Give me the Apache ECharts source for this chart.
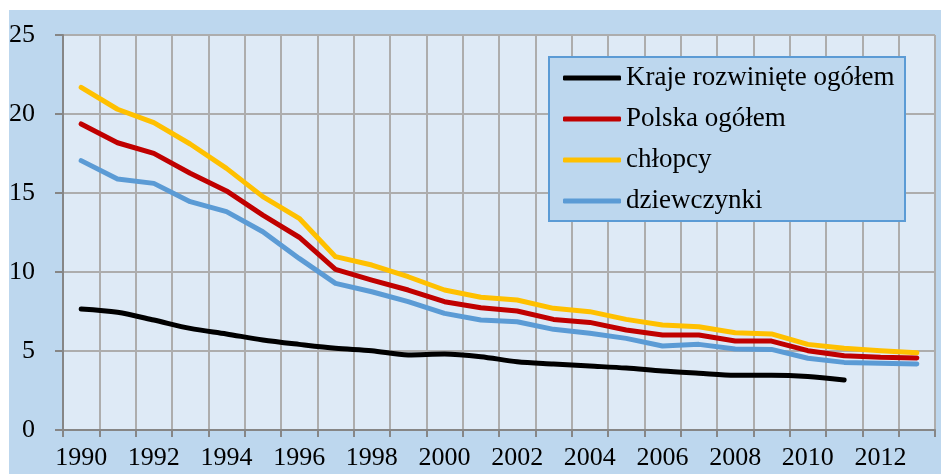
<!DOCTYPE html>
<html>
<head>
<meta charset="utf-8">
<script src="https://cdn.jsdelivr.net/npm/echarts@6/dist/echarts.min.js"></script>
<style>
  html, body { margin: 0; padding: 0; background: #fff; }
  #main { width: 941px; height: 474px; }
</style>
</head>
<body>
<div id="main"></div>
<script>
// lata
const years = ['1990', '1991', '1992', '1993', '1994', '1995', '1996', '1997', '1998', '1999', '2000', '2001',
  '2002', '2003', '2004', '2005', '2006', '2007', '2008', '2009', '2010', '2011', '2012', '2013'];

// Kraje rozwinięte ogółem (do 2011)
const krajeRozwiniete = [7.66, 7.45, 6.96, 6.43, 6.08, 5.7, 5.42, 5.17, 5.02, 4.75, 4.81, 4.64,
  4.32, 4.18, 4.05, 3.92, 3.73, 3.59, 3.46, 3.46, 3.38, 3.16];
// Polska ogółem
const polska = [19.37, 18.18, 17.51, 16.25, 15.13, 13.6, 12.2, 10.17, 9.49, 8.86, 8.12, 7.74,
  7.53, 7.0, 6.81, 6.33, 6.01, 6.01, 5.63, 5.63, 5.02, 4.7, 4.6, 4.56];
// chłopcy
const chlopcy = [21.69, 20.3, 19.45, 18.1, 16.56, 14.77, 13.4, 10.97, 10.44, 9.7, 8.86, 8.4,
  8.23, 7.7, 7.49, 7.0, 6.65, 6.54, 6.16, 6.08, 5.42, 5.17, 5.02, 4.89];
// dziewczynki
const dziewczynki = [17.05, 15.89, 15.61, 14.45, 13.82, 12.55, 10.86, 9.28, 8.75, 8.12, 7.38, 6.96,
  6.85, 6.37, 6.12, 5.8, 5.32, 5.42, 5.13, 5.1, 4.54, 4.28, 4.22, 4.18];

const yTicks = { min: 0, max: 25, interval: 5 };

const font = '"Liberation Serif", "Times New Roman", serif';
const gridColor = '#ADADAD';

const myChart = echarts.init(document.getElementById('main'));

function lineSeries(name, data, color, smooth) {
  return {
    name,
    type      : 'line',
    data,
    symbol    : 'none',
    smooth    : smooth || false,
    lineStyle : { color, width: 5, cap: 'round', join: 'round' },
    itemStyle : { color },
  };
}

myChart.setOption({
  animation : false,
  textStyle : { fontFamily: font },
  graphic   : [
    // tło całego wykresu
    {
      type  : 'rect',
      z     : -10,
      shape : { x: 9, y: 10, width: 932, height: 464 },
      style : { fill: '#BDD7EE' },
    },
    // ramka legendy
    {
      type  : 'rect',
      z     : 10,
      shape : { x: 549, y: 57, width: 356, height: 164 },
      style : { fill: '#BDD7EE', stroke: '#5B9BD5', lineWidth: 2 },
    },
  ],
  grid: {
    left            : 63,
    top             : 35,
    right           : 6,
    bottom          : 44,
    show            : true,
    backgroundColor : '#DEEAF6',
    borderWidth     : 0,
  },
  legend: {
    orient    : 'vertical',
    left      : 558,
    top       : 58,
    z         : 20,
    itemWidth : 58,
    itemHeight: 5,
    itemGap   : 11,
    icon      : 'roundRect',
    textStyle : { fontFamily: font, fontSize: 27, color: '#000', lineHeight: 30 },
    data      : ['Kraje rozwinięte ogółem', 'Polska ogółem', 'chłopcy', 'dziewczynki'],
  },
  xAxis: {
    type        : 'category',
    data        : years,
    boundaryGap : true,
    axisLine    : { lineStyle: { color: '#868686', width: 2 } },
    axisTick    : { show: true, interval: 0, length: 7, lineStyle: { color: '#868686', width: 2 } },
    axisLabel   : { interval: 1, margin: 15, fontFamily: font, fontSize: 26, color: '#000' },
    splitLine   : { show: true, interval: 0, lineStyle: { color: gridColor, width: 2 } },
  },
  yAxis: {
    type      : 'value',
    min       : yTicks.min,
    max       : yTicks.max,
    interval  : yTicks.interval,
    axisLine  : { show: true, lineStyle: { color: '#868686', width: 2 } },
    axisTick  : { show: true, length: 8, lineStyle: { color: '#868686', width: 2 } },
    axisLabel : { margin: 28, fontFamily: font, fontSize: 26, color: '#000' },
    splitLine : { show: true, lineStyle: { color: gridColor, width: 2 } },
  },
  series: [
    lineSeries('Kraje rozwinięte ogółem', krajeRozwiniete, '#000000', 0.3),
    lineSeries('Polska ogółem', polska, '#C00000'),
    lineSeries('chłopcy', chlopcy, '#FFC000'),
    lineSeries('dziewczynki', dziewczynki, '#5B9BD5'),
  ],
});
</script>
</body>
</html>
